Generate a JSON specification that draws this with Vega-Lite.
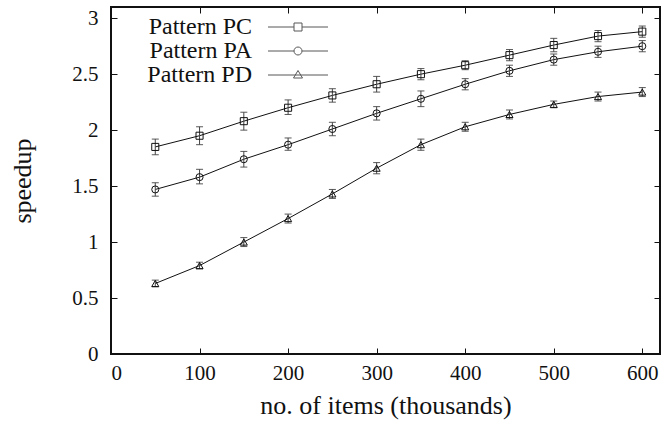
{
  "$schema": "https://vega.github.io/schema/vega-lite/v6.json",
  "width": 549,
  "height": 347,
  "autosize": {"type": "none"},
  "padding": {"left": 111, "top": 7, "right": 4, "bottom": 74},
  "background": "white",
  "config": {
    "view": {"stroke": "#111", "strokeWidth": 2},
    "font": "Liberation Serif",
    "axis": {
      "grid": false,
      "domain": false,
      "tickColor": "#111",
      "tickWidth": 1,
      "tickSize": -6,
      "labelFont": "Liberation Serif",
      "labelFontSize": 21,
      "labelColor": "#111",
      "titleFont": "Liberation Serif",
      "titleFontSize": 26,
      "titleFontWeight": "normal",
      "titleColor": "#111"
    }
  },
  "data": {
    "values": [
      {"n": 50, "pattern": "Pattern PC", "speedup": 1.85, "lo": 1.78, "hi": 1.92},
      {"n": 100, "pattern": "Pattern PC", "speedup": 1.95, "lo": 1.87, "hi": 2.03},
      {"n": 150, "pattern": "Pattern PC", "speedup": 2.08, "lo": 2.0, "hi": 2.16},
      {"n": 200, "pattern": "Pattern PC", "speedup": 2.2, "lo": 2.14, "hi": 2.27},
      {"n": 250, "pattern": "Pattern PC", "speedup": 2.31, "lo": 2.25, "hi": 2.37},
      {"n": 300, "pattern": "Pattern PC", "speedup": 2.41, "lo": 2.34, "hi": 2.48},
      {"n": 350, "pattern": "Pattern PC", "speedup": 2.5, "lo": 2.45, "hi": 2.55},
      {"n": 400, "pattern": "Pattern PC", "speedup": 2.58, "lo": 2.54, "hi": 2.62},
      {"n": 450, "pattern": "Pattern PC", "speedup": 2.67, "lo": 2.62, "hi": 2.72},
      {"n": 500, "pattern": "Pattern PC", "speedup": 2.76, "lo": 2.7, "hi": 2.82},
      {"n": 550, "pattern": "Pattern PC", "speedup": 2.84, "lo": 2.79, "hi": 2.89},
      {"n": 600, "pattern": "Pattern PC", "speedup": 2.88, "lo": 2.83, "hi": 2.93},
      {"n": 50, "pattern": "Pattern PA", "speedup": 1.47, "lo": 1.41, "hi": 1.53},
      {"n": 100, "pattern": "Pattern PA", "speedup": 1.58, "lo": 1.52, "hi": 1.65},
      {"n": 150, "pattern": "Pattern PA", "speedup": 1.74, "lo": 1.67, "hi": 1.81},
      {"n": 200, "pattern": "Pattern PA", "speedup": 1.87, "lo": 1.82, "hi": 1.93},
      {"n": 250, "pattern": "Pattern PA", "speedup": 2.01, "lo": 1.95, "hi": 2.07},
      {"n": 300, "pattern": "Pattern PA", "speedup": 2.15, "lo": 2.09, "hi": 2.21},
      {"n": 350, "pattern": "Pattern PA", "speedup": 2.28, "lo": 2.21, "hi": 2.35},
      {"n": 400, "pattern": "Pattern PA", "speedup": 2.41, "lo": 2.36, "hi": 2.46},
      {"n": 450, "pattern": "Pattern PA", "speedup": 2.53, "lo": 2.48, "hi": 2.58},
      {"n": 500, "pattern": "Pattern PA", "speedup": 2.63, "lo": 2.58, "hi": 2.68},
      {"n": 550, "pattern": "Pattern PA", "speedup": 2.7, "lo": 2.65, "hi": 2.75},
      {"n": 600, "pattern": "Pattern PA", "speedup": 2.75, "lo": 2.7, "hi": 2.8},
      {"n": 50, "pattern": "Pattern PD", "speedup": 0.63, "lo": 0.6, "hi": 0.66},
      {"n": 100, "pattern": "Pattern PD", "speedup": 0.79, "lo": 0.76, "hi": 0.82},
      {"n": 150, "pattern": "Pattern PD", "speedup": 1.0, "lo": 0.96, "hi": 1.04},
      {"n": 200, "pattern": "Pattern PD", "speedup": 1.21, "lo": 1.17, "hi": 1.25},
      {"n": 250, "pattern": "Pattern PD", "speedup": 1.43, "lo": 1.39, "hi": 1.47},
      {"n": 300, "pattern": "Pattern PD", "speedup": 1.66, "lo": 1.61, "hi": 1.71},
      {"n": 350, "pattern": "Pattern PD", "speedup": 1.87, "lo": 1.82, "hi": 1.92},
      {"n": 400, "pattern": "Pattern PD", "speedup": 2.03, "lo": 1.99, "hi": 2.07},
      {"n": 450, "pattern": "Pattern PD", "speedup": 2.14, "lo": 2.1, "hi": 2.18},
      {"n": 500, "pattern": "Pattern PD", "speedup": 2.23, "lo": 2.2, "hi": 2.26},
      {"n": 550, "pattern": "Pattern PD", "speedup": 2.3, "lo": 2.26, "hi": 2.34},
      {"n": 600, "pattern": "Pattern PD", "speedup": 2.34, "lo": 2.3, "hi": 2.38}
    ]
  },
  "resolve": {
    "axis": {"x": "independent", "y": "independent"},
    "scale": {"shape": "independent"},
    "legend": {"shape": "independent"}
  },
  "layer": [
    {
      "mark": {"type": "line", "color": "#111", "strokeWidth": 1},
      "encoding": {
        "x": {"field": "n", "type": "quantitative", "scale": {"domain": [0, 620], "nice": false}, "axis": null},
        "y": {"field": "speedup", "type": "quantitative", "scale": {"domain": [0, 3.1], "nice": false}, "axis": null},
        "detail": {"field": "pattern"}
      }
    },
    {
      "mark": {"type": "errorbar", "ticks": {"size": 7, "color": "#111"}, "rule": {"color": "#444"}},
      "encoding": {
        "x": {"field": "n", "type": "quantitative", "axis": null},
        "y": {"field": "lo", "type": "quantitative", "axis": null},
        "y2": {"field": "hi"},
        "detail": {"field": "pattern"}
      }
    },
    {
      "mark": {"type": "point", "filled": false, "color": "#111", "size": 50, "strokeWidth": 1, "opacity": 1},
      "encoding": {
        "x": {"field": "n", "type": "quantitative", "axis": {"values": [0, 100, 200, 300, 400, 500, 600], "title": "no. of items (thousands)", "labelPadding": 14, "titlePadding": 9}},
        "y": {"field": "speedup", "type": "quantitative", "axis": {"values": [0, 0.5, 1, 1.5, 2, 2.5, 3], "format": ".1~f", "title": "speedup", "labelPadding": 19, "titlePadding": 36}},
        "shape": {
          "field": "pattern",
          "type": "nominal",
          "scale": {"domain": ["Pattern PC", "Pattern PA", "Pattern PD"], "range": ["square", "circle", "triangle-up"]},
          "legend": null
        }
      }
    },
    {
      "transform": [{"filter": "datum.n < 0"}],
      "mark": {"type": "point", "filled": false, "color": "#111", "size": 100, "strokeWidth": 1},
      "encoding": {
        "x": {"field": "n", "type": "quantitative", "axis": {"orient": "top", "values": [0, 100, 200, 300, 400, 500, 600], "labels": false, "title": null}},
        "y": {"field": "speedup", "type": "quantitative", "axis": {"orient": "right", "values": [0, 0.5, 1, 1.5, 2, 2.5, 3], "labels": false, "title": null}},
        "shape": {
          "field": "pattern",
          "type": "nominal",
          "scale": {
            "domain": ["Pattern PC", "Pattern PA", "Pattern PD"],
            "range": [
              "M-6,0H-0.8M0.8,0H6M-0.8,-0.8H0.8V0.8H-0.8Z",
              "M-6,0H-0.8M0.8,0H6M-0.8,0A0.8 0.8 0 1 1 0.8,0A0.8 0.8 0 1 1 -0.8,0",
              "M-6,0H6M-0.9,0.6L0.9,0.6L0,-0.9Z"
            ]
          },
          "legend": {
            "title": null,
            "orient": "none",
            "legendX": 175,
            "legendY": 8,
            "padding": 0,
            "symbolSize": 100,
            "symbolStrokeColor": "#111",
            "symbolFillColor": "transparent",
            "symbolStrokeWidth": 1,
            "labelAlign": "right",
            "labelOffset": -58,
            "labelFont": "Liberation Serif",
            "labelFontSize": 24,
            "labelColor": "#111",
            "labelLimit": 0,
            "rowPadding": 0
          }
        }
      }
    }
  ]
}
